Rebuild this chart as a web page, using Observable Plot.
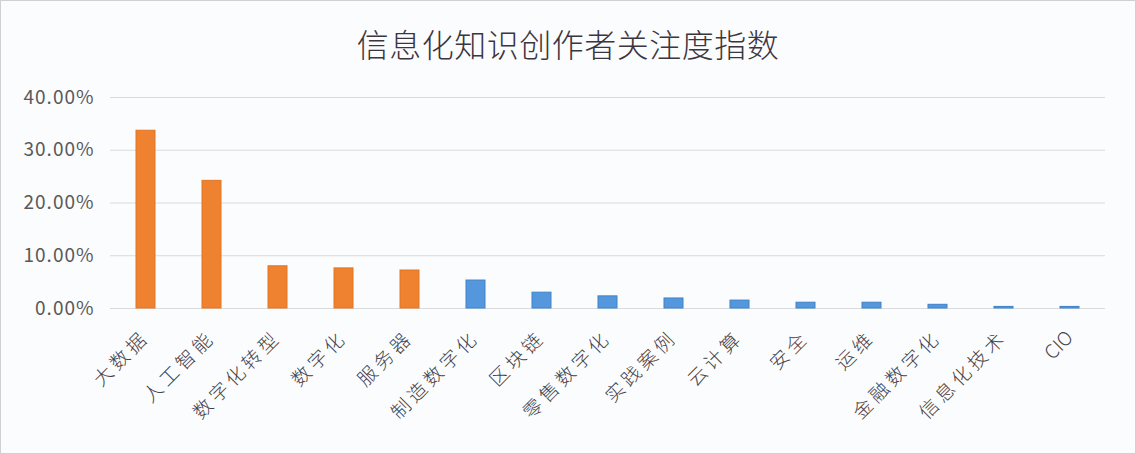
<!DOCTYPE html>
<html><head><meta charset="utf-8">
<script src="https://cdn.jsdelivr.net/npm/d3@7"></script>
<script src="https://cdn.jsdelivr.net/npm/@observablehq/plot@0.6"></script>
<style>
body{margin:0;background:#fff;}
#frame{width:1136px;height:454px;box-sizing:border-box;border:1px solid #cdd1d6;background:#fbfcfe;overflow:hidden;font-family:"Noto Sans CJK SC",sans-serif;}
#title{height:71px;text-align:center;font-size:32px;line-height:84px;color:#3b3540;font-weight:300;letter-spacing:0.5px;}
#chart svg{display:block;background:transparent;}
</style></head><body>
<div id="frame"><div id="title">信息化知识创作者关注度指数</div><div id="chart"></div></div>
<script>
const categories = ["大数据","人工智能","数字化转型","数字化","服务器","制造数字化","区块链","零售数字化","实践案例","云计算","安全","运维","金融数字化","信息化技术","CIO"];
const values = [0.337,0.242,0.080,0.076,0.072,0.053,0.030,0.023,0.019,0.015,0.011,0.011,0.007,0.003,0.003];
const highlighted = ["大数据","人工智能","数字化转型","数字化","服务器"];
const yTicks = [0,0.1,0.2,0.3,0.4];

const data = categories.map((c,i) => ({category:c, value:values[i], hot: highlighted.includes(c)}));

const chart = Plot.plot({
  width: 1134,
  height: 381,
  marginLeft: 109,
  marginRight: 30,
  marginTop: 25,
  marginBottom: 145,
  style: {fontFamily: '"Noto Sans CJK SC", sans-serif', background: "transparent"},
  x: {domain: categories, paddingInner: 0.71, paddingOuter: 0.355, label: null},
  y: {domain: [0, 0.4], label: null},
  marks: [
    Plot.ruleY(yTicks, {stroke: "#d9dadc", strokeWidth: 1.2}),
    Plot.barY(data.filter(d => d.hot), {x: "category", y: "value", fill: "#ee8230", stroke: "#e3741f", strokeWidth: 1}),
    Plot.barY(data.filter(d => !d.hot), {x: "category", y: "value", fill: "#5597dc", stroke: "#3f82c9", strokeWidth: 1}),
    Plot.axisY({ticks: yTicks, tickFormat: d3.format(".2%"), tickSize: 0, tickPadding: 16, fontSize: 19, fill: "#595959", label: null}),
    Plot.axisX({tickRotate: -45, tickSize: 0, tickPadding: 26, fontSize: 19, fill: "#44424a", fontWeight: 300, label: null})
  ]
});
d3.select(chart).selectAll("g[aria-label='x-axis tick label'] text")
  .filter(function(){ return /[^\x00-\x7f]/.test(this.textContent); })
  .style("letter-spacing", "4px");
d3.select(chart).selectAll("g[aria-label='y-axis tick label'] text").style("letter-spacing", "1px");
document.getElementById("chart").appendChild(chart);
</script>
</body></html>
